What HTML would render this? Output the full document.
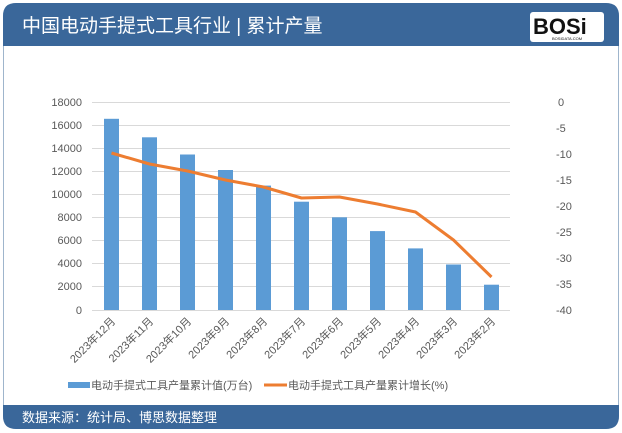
<!DOCTYPE html><html><head><meta charset="utf-8"><style>
body{margin:0;background:#fff;}
svg{display:block;font-family:"Liberation Sans","Noto Sans CJK SC",sans-serif;}
</style></head><body>
<svg width="622" height="433" viewBox="0 0 622 433" xmlns="http://www.w3.org/2000/svg">
<rect x="3.5" y="3.5" width="615" height="425" rx="12" fill="#fff" stroke="#9fb5cc"/>
<path d="M3 46 V16 Q3 3 16 3 H606 Q619 3 619 16 V46 Z" fill="#3a679a"/>
<path d="M3 405 H619 V416 Q619 429 606 429 H16 Q3 429 3 416 Z" fill="#3a679a"/>
<text x="22" y="32" font-size="19" fill="#fff">中国电动手提式工具行业 | 累计产量</text>
<rect x="530" y="12" width="74" height="30" rx="3" fill="#fff"/>
<text x="533" y="34" font-size="22" font-weight="bold" fill="#111" font-family="Liberation Sans,sans-serif">BOSi</text>
<text x="552" y="40" font-size="4" fill="#111">BOSIDATA.COM</text>
<text x="22" y="422" font-size="13" fill="#fff">数据来源：统计局、博思数据整理</text>
<g stroke="#d9d9d9" stroke-width="1">
<line x1="92" x2="510" y1="102.5" y2="102.5"/><line x1="92" x2="510" y1="125.5" y2="125.5"/>
<line x1="92" x2="510" y1="148.5" y2="148.5"/><line x1="92" x2="510" y1="171.5" y2="171.5"/>
<line x1="92" x2="510" y1="194.5" y2="194.5"/><line x1="92" x2="510" y1="217.5" y2="217.5"/>
<line x1="92" x2="510" y1="240.5" y2="240.5"/><line x1="92" x2="510" y1="263.5" y2="263.5"/>
<line x1="92" x2="510" y1="286.5" y2="286.5"/><line x1="92" x2="510" y1="310.5" y2="310.5"/>
</g>
<g font-size="11" fill="#595959" text-anchor="end">
<text x="82" y="106">18000</text><text x="82" y="129">16000</text><text x="82" y="152">14000</text>
<text x="82" y="175">12000</text><text x="82" y="198">10000</text><text x="82" y="221">8000</text>
<text x="82" y="244">6000</text><text x="82" y="267">4000</text><text x="82" y="290">2000</text><text x="82" y="314">0</text>
</g>
<g font-size="11" fill="#595959">
<text x="558" y="106">0</text><text x="556" y="132">-5</text><text x="556" y="158">-10</text>
<text x="556" y="184">-15</text><text x="556" y="210">-20</text><text x="556" y="236">-25</text>
<text x="556" y="262">-30</text><text x="556" y="288">-35</text><text x="556" y="314">-40</text>
</g>
<g fill="#5b9bd5">
<rect x="104" y="118.8" width="15" height="191.2"/>
<rect x="142" y="137.3" width="15" height="172.7"/>
<rect x="180" y="154.5" width="15" height="155.5"/>
<rect x="218" y="170" width="15" height="140"/>
<rect x="256" y="185.6" width="15" height="124.4"/>
<rect x="294" y="201.7" width="15" height="108.3"/>
<rect x="332" y="217.3" width="15" height="92.7"/>
<rect x="370" y="231.1" width="15" height="78.9"/>
<rect x="408" y="248.4" width="15" height="61.6"/>
<rect x="446" y="264.5" width="15" height="45.5"/>
<rect x="484" y="284.7" width="15" height="25.3"/>
</g>
<polyline fill="none" stroke="#ed7d31" stroke-width="3" stroke-linejoin="round" points="111.5,153 149.5,164 187.5,171 225.5,180 263.5,187 301.5,198 339.5,197 377.5,204 415.5,212 453.5,240 491.5,277"/>
<g font-size="11" fill="#595959" text-anchor="end">
<text transform="translate(116,322) rotate(-45)">2023年12月</text>
<text transform="translate(154,322) rotate(-45)">2023年11月</text>
<text transform="translate(192,322) rotate(-45)">2023年10月</text>
<text transform="translate(230,322) rotate(-45)">2023年9月</text>
<text transform="translate(268,322) rotate(-45)">2023年8月</text>
<text transform="translate(306,322) rotate(-45)">2023年7月</text>
<text transform="translate(344,322) rotate(-45)">2023年6月</text>
<text transform="translate(382,322) rotate(-45)">2023年5月</text>
<text transform="translate(420,322) rotate(-45)">2023年4月</text>
<text transform="translate(458,322) rotate(-45)">2023年3月</text>
<text transform="translate(496,322) rotate(-45)">2023年2月</text>
</g>
<rect x="68" y="382" width="22" height="6" fill="#5b9bd5"/>
<text x="91" y="389" font-size="11" fill="#595959">电动手提式工具产量累计值(万台)</text>
<line x1="264" x2="287" y1="385" y2="385" stroke="#ed7d31" stroke-width="3"/>
<text x="288" y="389" font-size="11" fill="#595959">电动手提式工具产量累计增长(%)</text>
</svg>
</body></html>
